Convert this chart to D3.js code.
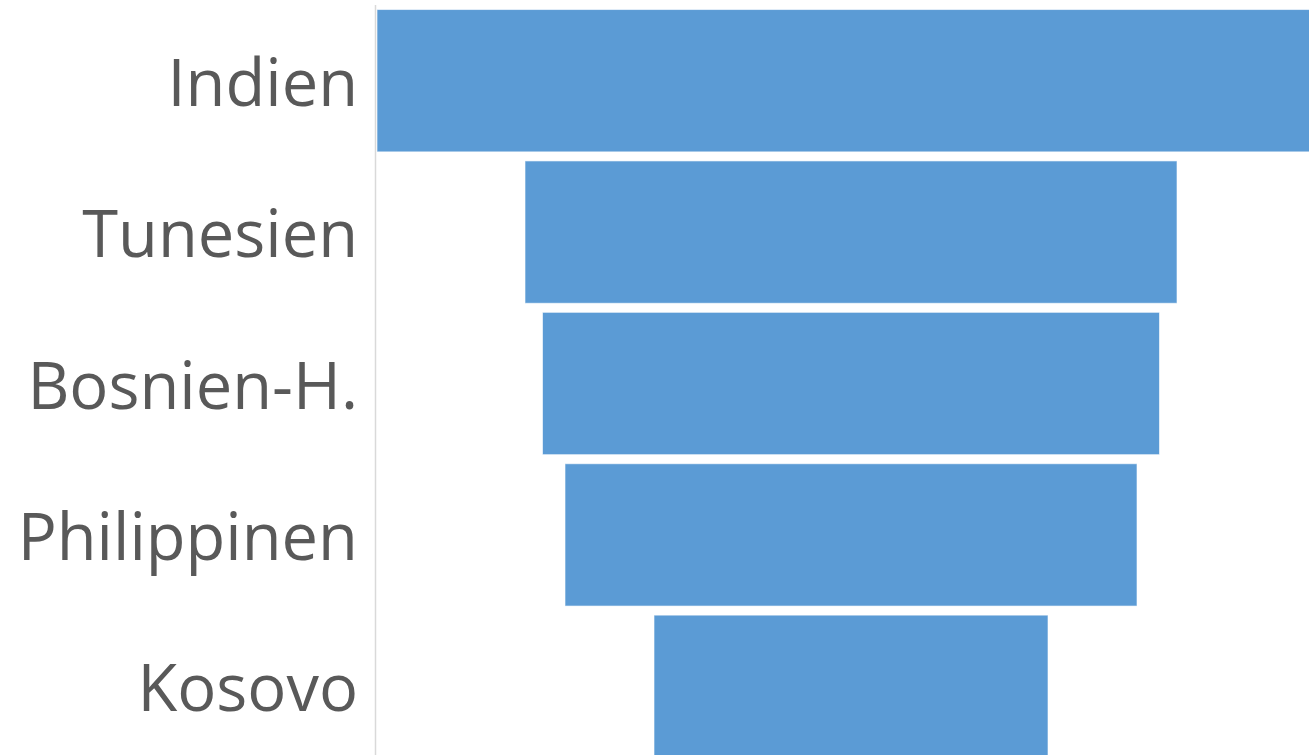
<!DOCTYPE html>
<html>
<head>
<meta charset="utf-8">
<script src="https://cdn.jsdelivr.net/npm/d3@7"></script>
<style>
  html, body { margin: 0; padding: 0; background: #fff; overflow: hidden; }
</style>
</head>
<body>
<svg id="chart" width="1309" height="755"></svg>
<script>
const countries = ["Indien", "Tunesien", "Bosnien-H.", "Philippinen", "Kosovo"];
const values = [948, 652, 617, 572, 394];

const width = 1309, height = 755;
const plot_left = 377, plot_width = 948;
const center_x = plot_left + plot_width / 2;

const svg = d3.select("#chart");

let y_scale = d3.scaleBand()
    .domain(countries)
    .range([5, 762])
    .paddingInner(0.06)
    .paddingOuter(0.03);

let w_scale = d3.scaleLinear()
    .domain([0, d3.max(values)])
    .range([0, plot_width]);

// Funnel bars, centred on the plot
svg.append("g")
    .selectAll("rect")
    .data(countries)
    .join("rect")
    .attr("x", (d, i) => center_x - w_scale(values[i]) / 2)
    .attr("y", d => y_scale(d))
    .attr("width", (d, i) => w_scale(values[i]))
    .attr("height", y_scale.bandwidth())
    .attr("fill", "#5b9bd5")
    .attr("stroke", "#ffffff")
    .attr("stroke-opacity", 0.6)
    .attr("stroke-width", 1);

// Category axis line
svg.append("line")
    .attr("x1", 375.5).attr("x2", 375.5)
    .attr("y1", 5).attr("y2", height)
    .attr("stroke", "#d9d9d9")
    .attr("stroke-width", 1.5);

// Category labels
svg.append("g")
    .selectAll("text")
    .data(countries)
    .join("text")
    .attr("x", 358)
    .attr("y", d => y_scale(d) + y_scale.bandwidth() / 2 + 25)
    .attr("text-anchor", "end")
    .attr("fill", "#595959")
    .style("font-family", "'Open Sans', sans-serif")
    .style("font-size", "65px")
    .text(d => d);
</script>
</body>
</html>
